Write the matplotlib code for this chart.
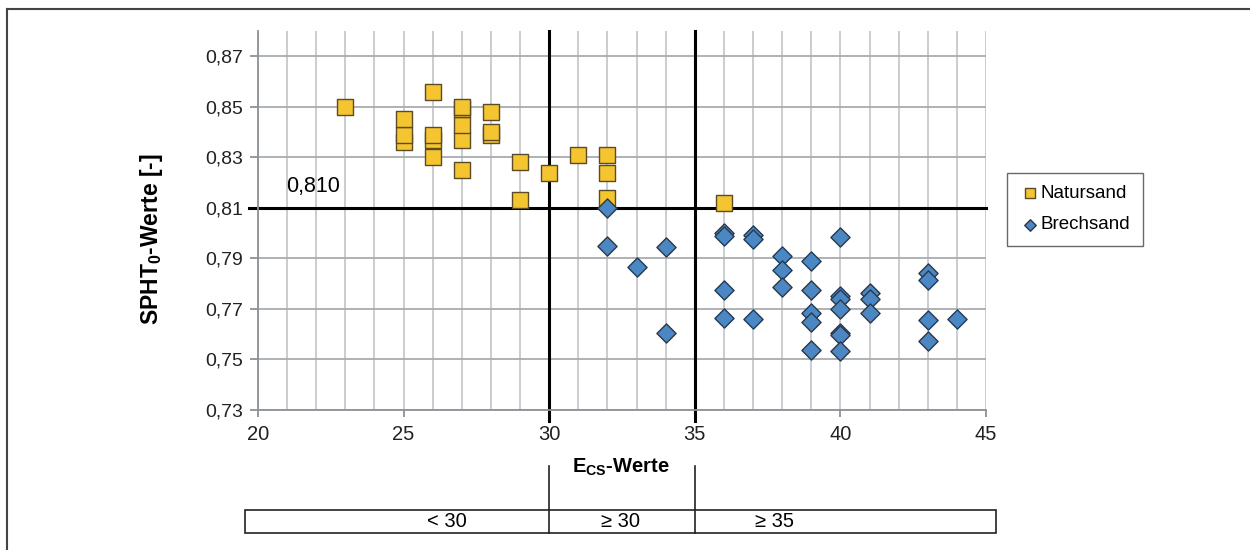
import matplotlib
matplotlib.use("Agg")
import matplotlib.pyplot as plt
from matplotlib.lines import Line2D
from matplotlib.patches import Rectangle
from matplotlib.ticker import FuncFormatter

plt.rcParams['font.family'] = ['Liberation Sans', 'DejaVu Sans']
plt.rcParams['mathtext.fontset'] = 'custom'
plt.rcParams['mathtext.rm'] = 'Liberation Sans'
plt.rcParams['mathtext.bf'] = 'Liberation Sans:bold'

# Natursand (squares)
natur_x = [23, 25, 25, 25, 26, 26, 26, 26, 27, 27, 27, 27, 27,
           28, 28, 28, 29, 29, 30, 31, 32, 32, 32, 36]
natur_y = [0.850, 0.836, 0.839, 0.845, 0.856, 0.830, 0.837, 0.839,
           0.837, 0.843, 0.849, 0.850, 0.825,
           0.839, 0.840, 0.848, 0.828, 0.813, 0.824, 0.831,
           0.831, 0.824, 0.814, 0.812]

# Brechsand (diamonds)
brech_x = [32, 32, 33, 34, 34,
           36, 36, 36, 36, 37, 37, 37, 38, 38, 38,
           39, 39, 39, 39, 39,
           40, 40, 40, 40, 40, 40, 40,
           41, 41, 41, 43, 43, 43, 43, 44]
brech_y = [0.810, 0.795, 0.7865, 0.7947, 0.7605,
           0.800, 0.799, 0.7775, 0.7665, 0.7994, 0.7977, 0.766,
           0.791, 0.7855, 0.7785,
           0.789, 0.7775, 0.7685, 0.765, 0.7537,
           0.7985, 0.775, 0.7738, 0.770, 0.7606, 0.7597, 0.7535,
           0.7762, 0.7738, 0.7685, 0.7842, 0.7815, 0.7656, 0.7573, 0.766]

y_ticks = [0.73, 0.75, 0.77, 0.79, 0.81, 0.83, 0.85, 0.87]
x_ticks = [20, 25, 30, 35, 40, 45]
limit_x = [30, 35]
limit_y = 0.810
class_labels = ['< 30', '\u2265 30', '\u2265 35']
class_pos = [26.5, 32.45, 37.75]

fig = plt.figure(figsize=(12.5, 5.5), dpi=100)
ax = fig.add_axes([0.2064, 0.2545, 0.5824, 0.6891])

ax.set_xlim(20, 45)
ax.set_ylim(0.73, 0.88)

# grid
ax.set_xticks(x_ticks)
ax.set_xticks(range(20, 46), minor=True)
ax.set_yticks(y_ticks)
ax.grid(True, which='both', axis='x', color='#c5c9cc', lw=1.3)
ax.grid(True, which='major', axis='y', color='#a9adb0', lw=1.3)
ax.set_axisbelow(True)
for s in ['top', 'right']:
    ax.spines[s].set_visible(False)
for s in ['left', 'bottom']:
    ax.spines[s].set_color('#8d9296')
    ax.spines[s].set_linewidth(1.3)
ax.tick_params(axis='both', which='major', direction='out', color='#8d9296',
               width=1.3, labelsize=14, colors='#222222')
ax.tick_params(axis='x', which='major', length=5, pad=6, labelsize=14.5)
ax.tick_params(axis='y', which='major', length=6, pad=5)
ax.tick_params(axis='x', which='minor', length=0)
ax.yaxis.set_major_formatter(FuncFormatter(lambda v, p: f'{v:.2f}'.replace('.', ',')))

# limit lines
for xv in limit_x:
    ax.axvline(xv, ymin=-0.03, ymax=1, color='black', lw=2.2, clip_on=False, zorder=2)
ax.axhline(limit_y, xmin=-0.012, xmax=1, color='black', lw=2.2, clip_on=False, zorder=2)
ax.text(20.95, 0.8185, '0,810', fontsize=15.5, va='center', ha='left')

ax.scatter(natur_x, natur_y, marker='s', s=140, facecolor='#f5c431',
           edgecolor='#5b4c25', linewidth=1.0, zorder=3, label='Natursand')
ax.scatter(brech_x, brech_y, marker='D', s=95, facecolor='#4b87c3',
           edgecolor='#27394e', linewidth=1.0, zorder=3, label='Brechsand')

ax.set_ylabel(r'SPHT$_\mathbf{0}$-Werte [-]', fontsize=16.5, fontweight='bold')
ax.yaxis.set_label_coords(-0.128, 0.451)

# class box below the x axis
tr = ax.get_xaxis_transform()
ax.text(32.47, -0.15, r'E$_\mathbf{CS}$-Werte', transform=tr, fontsize=14.5,
        fontweight='bold', ha='center', va='center')
ax.add_patch(Rectangle((19.55, -0.3245), 45.34 - 19.55, 0.0606, transform=tr,
                       fill=False, edgecolor='#222222', lw=1.2, clip_on=False))
for xv in limit_x:
    ax.add_line(Line2D([xv, xv], [-0.3245, -0.148], transform=tr, color='#222222',
                       lw=1.2, clip_on=False))
for lbl, xp in zip(class_labels, class_pos):
    ax.text(xp, -0.294, lbl, transform=tr, fontsize=14.5, ha='center', va='center')

leg = ax.legend(loc='upper left', bbox_to_anchor=(0.8056, 0.6855),
                bbox_transform=fig.transFigure, fontsize=13.5, frameon=True,
                fancybox=False, handletextpad=0.05, handlelength=1.1,
                borderpad=0.65, labelspacing=0.75, markerscale=0.6,
                borderaxespad=0)
leg.get_frame().set_edgecolor('#444444')
leg.get_frame().set_linewidth(1.0)

# outer frame (top and left edges)
fig.add_artist(Line2D([0.0056, 1.0], [0.9836, 0.9836], transform=fig.transFigure,
                      color='#444444', lw=1.5))
fig.add_artist(Line2D([0.0056, 0.0056], [0.0, 0.9836], transform=fig.transFigure,
                      color='#444444', lw=1.5))

fig.savefig('out.png', dpi=100)
